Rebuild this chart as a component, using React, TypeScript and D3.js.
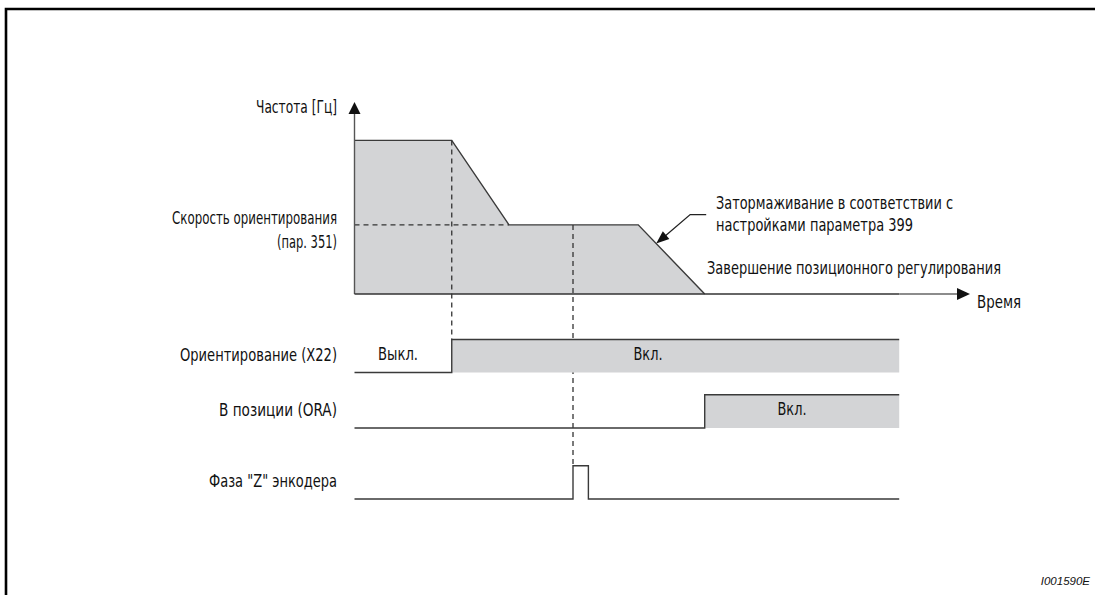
import React from "react";
import * as d3 from "d3";

// frequency profile (time units, % of max freq)
const freqTimes = [0, 15.8, 25.1, 46.1, 56.9];
const freqValues = [100, 100, 45, 45, 0];
const orientSpeed = 45;

// events on the time axis
const orientStart = 15.8;
const zPulseStart = 35.5;
const zPulseEnd = 38.0;
const decelStart = 46.1;
const decelEnd = 56.9;
const signalEnd = 88.5;

// timing signals
const signalNames = ["Ориентирование (X22)", "В позиции (ORA)", 'Фаза "Z" энкодера'];
const signalSteps = [
  [[0, 0], [orientStart, 1], [signalEnd, 1]],
  [[0, 0], [decelEnd, 1], [signalEnd, 1]],
  [[0, 0], [zPulseStart, 1], [zPulseEnd, 0], [signalEnd, 0]],
];
const signalFilled = [true, true, false];
const offLabel = "Выкл.";
const onLabel = "Вкл.";

const FONT = "'Liberation Sans Narrow', 'DejaVu Sans Condensed', 'Liberation Sans', sans-serif";
const GRAY = "#d3d4d6";
const LINE = "#3a3a3a";
const TXT = "#111";

// condensed label: squeeze to the width measured on the reference
const Label = ({ x, y, w, anchor = "start", children }: any) => (
  <text
    x={x}
    y={y}
    textAnchor={anchor}
    fontSize={17}
    fill={TXT}
    textLength={w}
    lengthAdjust="spacingAndGlyphs"
  >
    {children}
  </text>
);

const App = () => {
  const width = 1095,
    height = 595;

  const x = d3.scaleLinear().domain([0, 100]).range([354.5, 970]);
  const y = d3.scaleLinear().domain([0, 125]).range([294, 102]);

  // each signal row: low level / high level positions
  const rowLow = [372.5, 428, 499];
  const rowHigh = [339.5, 394.7, 465.7];
  const rowLabelW = [157, 118, 128];
  const rowY = (i: number, lvl: number) =>
    d3.scaleLinear().domain([0, 1]).range([rowLow[i], rowHigh[i]])(lvl);

  const freqData = freqTimes.map((t, i) => ({ t, f: freqValues[i] }));
  const freqArea = d3
    .area<{ t: number; f: number }>()
    .x((d) => x(d.t))
    .y0(y(0))
    .y1((d) => y(d.f));
  const freqLine = d3
    .line<{ t: number; f: number }>()
    .x((d) => x(d.t))
    .y((d) => y(d.f));

  // leader arrow pointing to decel ramp
  const rampFrac = 0.27;
  const tipX = x(decelStart + (decelEnd - decelStart) * rampFrac);
  const tipY = y(orientSpeed * (1 - rampFrac));
  const elbowX = tipX + 34,
    elbowY = tipY - 29;
  const ang = Math.atan2(tipY - elbowY, tipX - elbowX);
  const ah = 13,
    aw = 5;
  const arrowHead = (tx: number, ty: number, a: number, len: number, w: number) => {
    const bx = tx - len * Math.cos(a),
      by = ty - len * Math.sin(a);
    const px = -Math.sin(a) * w,
      py = Math.cos(a) * w;
    return `M${tx},${ty}L${bx + px},${by + py}L${bx - px},${by - py}Z`;
  };

  const axisEndX = x(100);

  return (
    <>
      <style>{"html,body{margin:0;padding:0;overflow:hidden;background:#fff}"}</style>
      <svg width={width} height={height} style={{ display: "block" }} fontFamily={FONT}>
        {/* frame (only top and left edges fall inside the picture) */}
        <path d="M6,600V9H1100" fill="none" stroke="#000" strokeWidth={2.6} />

        {/* frequency profile */}
        <path d={freqArea(freqData) || ""} fill={GRAY} />
        <path d={freqLine(freqData) || ""} fill="none" stroke={LINE} strokeWidth={1.4} />

        {/* dashed guides */}
        <g stroke="#333" strokeWidth={1.3} strokeDasharray="5,4" fill="none">
          <line x1={x(0)} x2={x(freqTimes[2])} y1={y(orientSpeed)} y2={y(orientSpeed)} />
          <line x1={x(orientStart)} x2={x(orientStart)} y1={y(100)} y2={rowHigh[0]} />
          <line x1={x(zPulseStart)} x2={x(zPulseStart)} y1={y(orientSpeed)} y2={rowHigh[2]} />
        </g>

        {/* axes */}
        <line x1={x(0)} x2={x(0)} y1={y(0)} y2={y(125) + 10} stroke="#555" strokeWidth={1.4} />
        <path d={arrowHead(x(0), y(125), -Math.PI / 2, 12, 6)} fill="#111" />
        <line x1={x(0)} x2={x(signalEnd)} y1={y(0)} y2={y(0)} stroke="#333" strokeWidth={1.6} />
        <line x1={x(signalEnd)} x2={axisEndX - 10} y1={y(0)} y2={y(0)} stroke="#666" strokeWidth={1.6} />
        <path d={arrowHead(axisEndX, y(0), 0, 13, 6)} fill="#111" />

        {/* signals */}
        {signalSteps.map((steps, i) => {
          const pts = steps.map(([t, l]) => ({ t, l }));
          const area = d3
            .area<{ t: number; l: number }>()
            .x((d) => x(d.t))
            .y0(rowLow[i])
            .y1((d) => rowY(i, d.l))
            .curve(d3.curveStepAfter);
          const line = d3
            .line<{ t: number; l: number }>()
            .x((d) => x(d.t))
            .y((d) => rowY(i, d.l))
            .curve(d3.curveStepAfter);
          return (
            <g key={i}>
              {signalFilled[i] && <path d={area(pts) || ""} fill={GRAY} />}
              <path d={line(pts) || ""} fill="none" stroke={LINE} strokeWidth={1.4} />
              <Label x={337} y={rowLow[i] - 12} w={rowLabelW[i]} anchor="end">
                {signalNames[i]}
              </Label>
            </g>
          );
        })}

        {/* state labels */}
        <Label x={398} y={360} w={40} anchor="middle">
          {offLabel}
        </Label>
        <Label x={648} y={360} w={29} anchor="middle">
          {onLabel}
        </Label>
        <Label x={792} y={415} w={29} anchor="middle">
          {onLabel}
        </Label>

        {/* axis labels */}
        <Label x={337} y={113} w={81} anchor="end">
          Частота [Гц]
        </Label>
        <Label x={977} y={308} w={44}>
          Время
        </Label>
        <Label x={337} y={224} w={165} anchor="end">
          Скорость ориентирования
        </Label>
        <Label x={337} y={248} w={60} anchor="end">
          (пар. 351)
        </Label>

        {/* annotation */}
        <path
          d={`M${elbowX + 16},${elbowY}H${elbowX}L${tipX - (ah - 2) * Math.cos(ang)},${tipY - (ah - 2) * Math.sin(ang)}`}
          fill="none"
          stroke="#222"
          strokeWidth={1.3}
        />
        <path d={arrowHead(tipX, tipY, ang, ah, aw)} fill="#111" />
        <Label x={716} y={209} w={237}>
          Затормаживание в соответствии с
        </Label>
        <Label x={716} y={231} w={197}>
          настройками параметра 399
        </Label>
        <Label x={707} y={274} w={294}>
          Завершение позиционного регулирования
        </Label>

        <text
          x={1090}
          y={585}
          textAnchor="end"
          fontSize={11.5}
          fontStyle="italic"
          fontFamily="'Liberation Sans', Arial, sans-serif"
          fill={TXT}
        >
          I001590E
        </text>
      </svg>
    </>
  );
};

export default App;
